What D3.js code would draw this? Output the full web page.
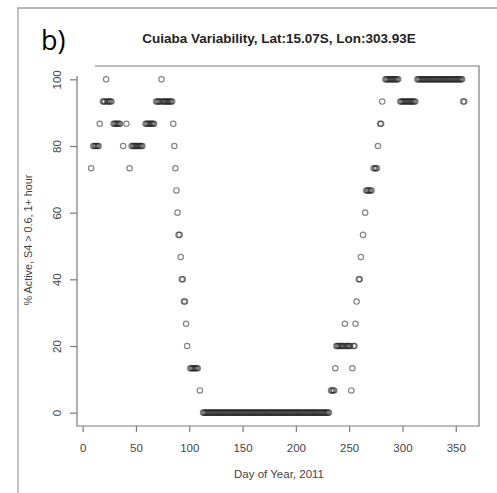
<!DOCTYPE html>
<html>
<head>
<meta charset="utf-8">
<script src="https://cdn.jsdelivr.net/npm/d3@7"></script>
<style>
  body { margin: 0; background: #fff; }
  svg { display: block; }
</style>
</head>
<body>
<div id="chart"></div>
<script>
// runs of consecutive days that share the same % active value
const runFrom = [8, 10, 16, 19, 22, 23, 29, 38, 41, 44, 46, 59, 69, 74, 75, 85, 86, 87, 88, 89, 90, 92, 93, 95, 97, 98, 101, 110,
  113, 233, 237, 238, 246, 247, 252, 253, 254, 256, 257, 259, 261, 263, 265, 266, 273, 277, 279, 281, 284, 298, 314, 357]
const runTo = [8, 15, 16, 21, 22, 27, 35, 38, 41, 44, 56, 67, 73, 74, 84, 85, 86, 87, 88, 89, 91, 92, 94, 96, 97, 98, 108, 110,
  231, 236, 237, 245, 246, 251, 252, 253, 255, 256, 257, 260, 261, 263, 265, 271, 276, 277, 280, 281, 296, 312, 356, 358]
const runPct = [73.33, 80, 86.67, 93.33, 100, 93.33, 86.67, 80, 86.67, 73.33, 80, 86.67, 93.33, 100, 93.33, 86.67, 80, 73.33, 66.67, 60, 53.33, 46.67, 40, 33.33, 26.67, 20, 13.33, 6.67,
  0, 6.67, 13.33, 20, 26.67, 20, 6.67, 13.33, 20, 26.67, 33.33, 40, 46.67, 53.33, 60, 66.67, 73.33, 80, 86.67, 93.33, 100, 93.33, 100, 93.33]

const xTicks = [0, 50, 100, 150, 200, 250, 300, 350]
const yTicks = [0, 20, 40, 60, 80, 100]

const titleText = 'Cuiaba Variability, Lat:15.07S, Lon:303.93E'
const xLabel = 'Day of Year, 2011'
const yLabel = '% Active, S4 > 0.6, 1+ hour'

const width = 497
const height = 493
const box = { left: 77, right: 479, top: 66, bottom: 426 }
const grey = '#7a7a7a'
const font = '"Liberation Sans", Arial, sans-serif'

// one point per day inside each run
const points = []
runFrom.forEach((from, i) => {
  for (let d = from; d <= runTo[i]; d++) points.push({ day: d, pct: runPct[i] })
})

const x = d3.scaleLinear().domain([-5.3, 371.8]).range([box.left, box.right])
const y = d3.scaleLinear().domain([-4, 104]).range([box.bottom, box.top])

const svg = d3
  .select('#chart')
  .append('svg')
  .attr('width', width)
  .attr('height', height)

// outer frame of the figure panel
svg
  .append('path')
  .attr('d', `M 18 ${height + 2} L 18 8 L ${width + 2} 8`)
  .attr('fill', 'none')
  .attr('stroke', '#a0a0a0')
  .attr('stroke-width', 1.3)

svg
  .append('text')
  .attr('x', 41)
  .attr('y', 50)
  .attr('font-family', '"Open Sans", "Noto Sans", sans-serif')
  .attr('font-size', 27)
  .attr('fill', '#000')
  .text('b)')

// plot box (top-left corner hidden behind the label box in the original)
svg
  .append('path')
  .attr('d', `M ${box.left} 76 L ${box.left} ${box.bottom} L ${box.right} ${box.bottom} L ${box.right} ${box.top} L 95 ${box.top}`)
  .attr('fill', 'none')
  .attr('stroke', grey)
  .attr('stroke-width', 1.2)

// x axis
const gx = svg
  .append('g')
  .attr('transform', `translate(0,${box.bottom})`)
  .call(d3.axisBottom(x).tickValues(xTicks).tickSize(6).tickPadding(11.5))
gx.select('.domain').remove()
gx.selectAll('.tick line').attr('stroke', grey).attr('stroke-width', 1.2)
gx.selectAll('.tick text')
  .attr('font-family', font)
  .attr('font-size', 11.5)
  .attr('fill', '#444')

// y axis, labels rotated like R's default
const gy = svg
  .append('g')
  .attr('transform', `translate(${box.left},0)`)
  .call(d3.axisLeft(y).tickValues(yTicks).tickSize(7))
gy.select('.domain').remove()
gy.selectAll('.tick line').attr('stroke', grey).attr('stroke-width', 1.2)
gy.selectAll('.tick text')
  .attr('x', null)
  .attr('dy', null)
  .attr('transform', 'translate(-16,0) rotate(-90)')
  .attr('text-anchor', 'middle')
  .attr('font-family', font)
  .attr('font-size', 11.5)
  .attr('fill', '#444')

// titles
svg
  .append('text')
  .attr('x', 279)
  .attr('y', 43)
  .attr('text-anchor', 'middle')
  .attr('font-family', font)
  .attr('font-weight', 'bold')
  .attr('font-size', 13.5)
  .attr('fill', '#222')
  .text(titleText)

svg
  .append('text')
  .attr('x', 279)
  .attr('y', 478)
  .attr('text-anchor', 'middle')
  .attr('font-family', font)
  .attr('font-size', 11.5)
  .attr('fill', '#444')
  .text(xLabel)

svg
  .append('text')
  .attr('transform', 'translate(32,240) rotate(-90)')
  .attr('text-anchor', 'middle')
  .attr('font-family', font)
  .attr('font-size', 10.8)
  .attr('fill', '#444')
  .text(yLabel)

// open circles
svg
  .append('g')
  .selectAll('circle')
  .data(points)
  .enter()
  .append('circle')
  .attr('cx', d => x(d.day))
  .attr('cy', d => y(d.pct))
  .attr('r', 2.7)
  .attr('fill', 'none')
  .attr('stroke', '#222')
  .attr('stroke-opacity', 0.55)
  .attr('stroke-width', 1.2)
</script>
</body>
</html>
